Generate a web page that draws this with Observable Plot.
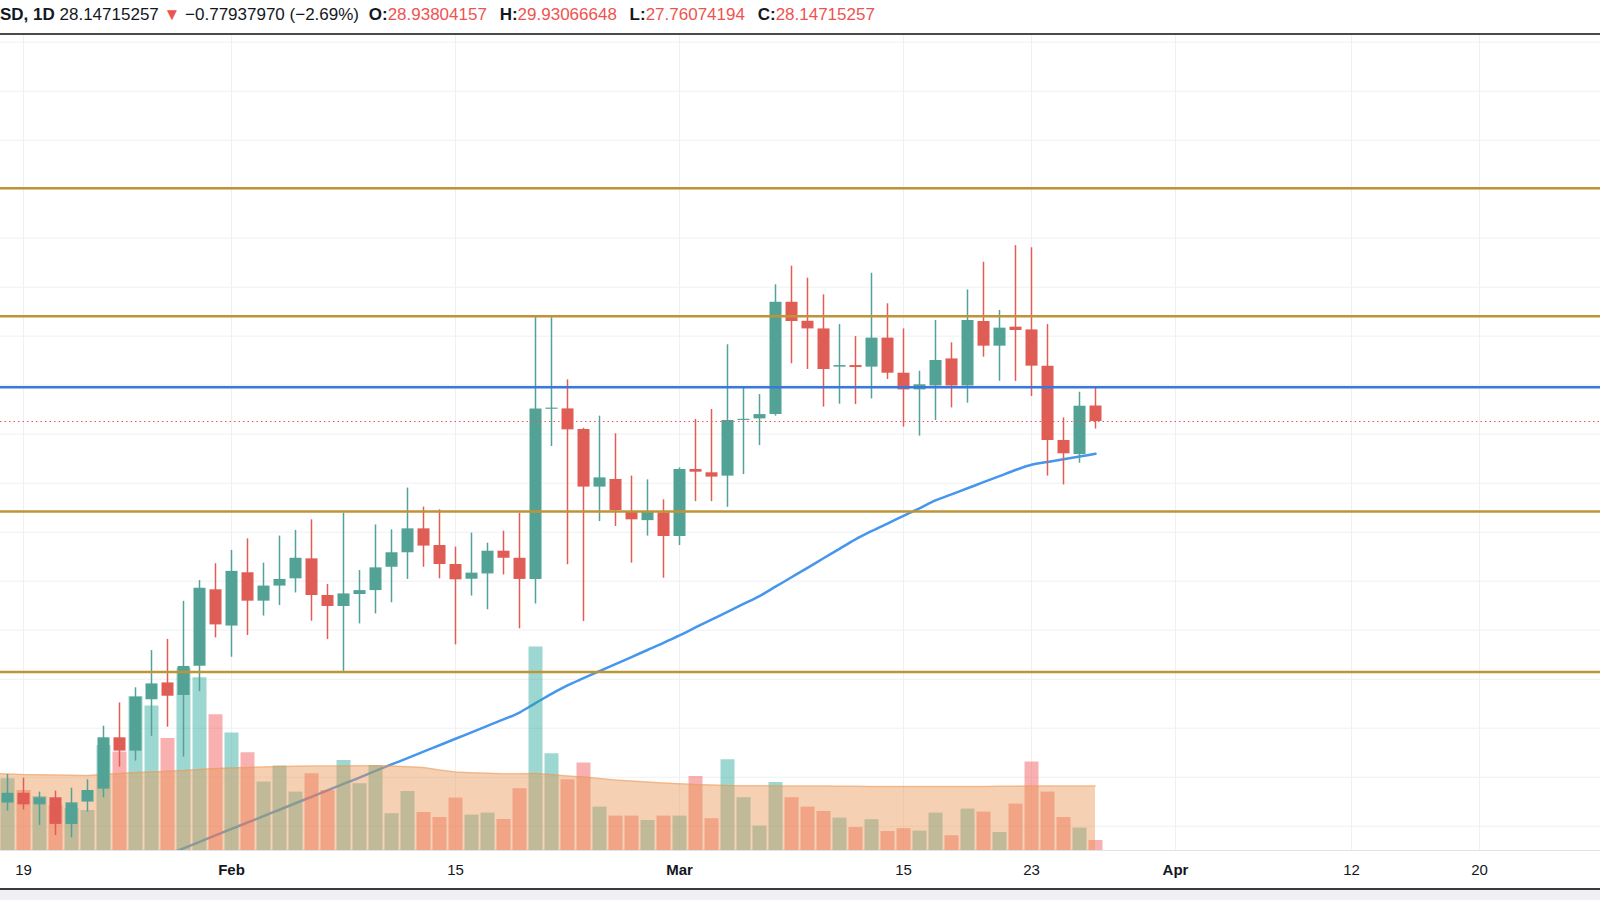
<!DOCTYPE html>
<html>
<head>
<meta charset="utf-8">
<script src="https://cdn.jsdelivr.net/npm/d3@7"></script>
<script src="https://cdn.jsdelivr.net/npm/@observablehq/plot@0.6"></script>
<style>
  html, body { margin: 0; padding: 0; background: #fff; }
  #wrap { position: relative; width: 1600px; height: 900px; overflow: hidden; font-family: "Liberation Sans", Arial, sans-serif; }
  #hdr { position: absolute; left: 0; top: 0; height: 33px; line-height: 29px; font-size: 17px; color: #131722; white-space: nowrap; }
  #hdr b { font-weight: 700; }
  #hdr .r { color: #ef5350; }
  #hdr .chg { margin-right: 5px; }
  #hdr .v { margin-right: 8px; }
  #topline { position: absolute; left: 0; top: 33px; width: 1600px; height: 2px; background: #4a4a4a; }
  .layer { position: absolute; left: 0; top: 35px; width: 1600px; height: 855px; }
  #botline { position: absolute; left: 0; top: 888px; width: 1600px; height: 2px; background: #3a3a3a; }
  #botfill { position: absolute; left: 0; top: 890px; width: 1600px; height: 10px; background: #eef0f3; }
</style>
</head>
<body>
<div id="wrap">
  <div id="hdr"></div>
  <div id="topline"></div>
  <div class="layer" id="l1"></div>
  <div class="layer" id="l2"></div>
  <div class="layer" id="l3"></div>
  <div id="botline"></div>
  <div id="botfill"></div>
</div>
<script>
// ---------- header text ----------
const symbolLabel = "SD, 1D";
const lastPrice = "28.14715257";
const changeText = "\u22120.77937970 (\u22122.69%)";
const ohlcLabels = ["O:", "H:", "L:", "C:"];
const ohlcValues = ["28.93804157", "29.93066648", "27.76074194", "28.14715257"];

// ---------- daily candles ----------
const days = [
  "2021-01-18","2021-01-19","2021-01-20","2021-01-21","2021-01-22","2021-01-23","2021-01-24","2021-01-25","2021-01-26","2021-01-27","2021-01-28","2021-01-29","2021-01-30","2021-01-31",
  "2021-02-01","2021-02-02","2021-02-03","2021-02-04","2021-02-05","2021-02-06","2021-02-07","2021-02-08","2021-02-09","2021-02-10","2021-02-11","2021-02-12","2021-02-13","2021-02-14",
  "2021-02-15","2021-02-16","2021-02-17","2021-02-18","2021-02-19","2021-02-20","2021-02-21","2021-02-22","2021-02-23","2021-02-24","2021-02-25","2021-02-26","2021-02-27","2021-02-28",
  "2021-03-01","2021-03-02","2021-03-03","2021-03-04","2021-03-05","2021-03-06","2021-03-07","2021-03-08","2021-03-09","2021-03-10","2021-03-11","2021-03-12","2021-03-13","2021-03-14",
  "2021-03-15","2021-03-16","2021-03-17","2021-03-18","2021-03-19","2021-03-20","2021-03-21","2021-03-22","2021-03-23","2021-03-24","2021-03-25","2021-03-26","2021-03-27"
];
const open = [
  8.68, 9.18, 8.59, 8.95, 7.59, 8.73, 9.39, 12.01, 11.33, 13.95, 14.81, 14.17, 15.66, 19.56,
  17.71, 20.43, 18.98, 19.75, 20.12, 21.14, 19.27, 18.71, 19.32, 19.52, 20.71, 21.45, 22.67, 21.82,
  20.85, 20.10, 20.37, 21.53, 21.17, 20.09, 28.77, 28.79, 27.74, 24.80, 25.19, 23.52, 23.09, 23.49,
  22.28, 25.70, 25.53, 25.36, 28.20, 28.28, 28.50, 34.23, 33.26, 32.87, 30.92, 31.00, 30.92, 32.40,
  30.61, 29.76, 29.96, 31.34, 29.96, 33.25, 31.99, 32.96, 32.82, 30.97, 27.18, 26.46, 28.938
];
const high = [
  10.14, 9.95, 9.24, 9.29, 9.44, 9.87, 12.60, 13.79, 14.56, 16.46, 17.03, 18.97, 20.03, 20.89,
  21.57, 22.16, 20.92, 22.30, 22.59, 23.13, 19.83, 23.47, 20.54, 22.87, 22.62, 24.75, 23.78, 23.64,
  21.74, 22.45, 21.94, 22.55, 23.47, 33.47, 33.44, 30.27, 27.80, 28.42, 27.52, 25.36, 25.17, 24.15,
  25.78, 28.25, 28.76, 32.06, 29.85, 29.52, 35.12, 36.07, 35.46, 34.61, 33.09, 32.48, 35.71, 34.15,
  32.87, 30.71, 33.30, 32.16, 34.86, 36.27, 33.81, 37.12, 37.01, 33.09, 28.33, 29.64, 29.931
];
const low = [
  8.27, 8.33, 7.54, 7.02, 6.91, 8.22, 8.95, 10.51, 10.82, 12.08, 12.55, 11.02, 14.37, 17.11,
  16.12, 17.23, 18.22, 18.76, 19.40, 17.96, 17.02, 15.40, 17.82, 18.33, 18.90, 20.09, 20.71, 20.12,
  16.75, 19.24, 18.54, 20.32, 17.57, 18.84, 26.87, 20.84, 17.94, 23.04, 22.79, 20.92, 22.30, 20.15,
  21.82, 24.06, 24.06, 23.77, 25.44, 26.92, 28.42, 31.09, 30.80, 28.88, 29.03, 29.01, 29.30, 30.29,
  27.86, 27.40, 28.20, 28.84, 29.08, 31.43, 30.20, 30.19, 29.42, 25.36, 24.91, 26.02, 27.761
];
const close = [
  9.18, 8.59, 8.95, 7.59, 8.69, 9.32, 12.01, 11.33, 14.08, 14.76, 14.13, 15.65, 19.64, 17.77,
  20.50, 18.98, 19.75, 20.09, 21.17, 19.27, 18.71, 19.35, 19.52, 20.68, 21.45, 22.67, 21.79, 20.85,
  20.07, 20.41, 21.53, 21.17, 20.09, 28.79, 28.83, 27.72, 24.80, 25.27, 23.60, 23.13, 23.52, 22.28,
  25.70, 25.56, 25.31, 28.20, 28.26, 28.50, 34.23, 33.25, 32.87, 30.80, 31.00, 30.90, 32.40, 30.61,
  29.76, 30.02, 31.26, 29.96, 33.30, 31.99, 32.91, 32.79, 30.97, 27.18, 26.50, 28.926, 28.147
];
// volume (millions)
const volume = [
  3.59, 3.0, 2.7, 2.25, 2.1, 2.0, 5.25, 4.92, 7.7, 7.22, 5.6, 9.1, 8.64, 6.79,
  5.87, 4.89, 3.42, 4.22, 2.92, 3.84, 3.0, 4.5, 3.34, 4.25, 1.84, 2.95, 1.9, 1.65,
  2.62, 1.77, 1.87, 1.55, 3.09, 10.17, 4.84, 3.54, 4.37, 2.17, 1.72, 1.72, 1.5, 1.72,
  1.72, 3.7, 1.59, 4.54, 2.64, 1.22, 3.4, 2.64, 2.17, 1.95, 1.62, 1.15, 1.54, 0.95,
  1.09, 0.97, 1.87, 0.74, 2.07, 1.92, 0.9, 2.32, 4.42, 2.92, 1.65, 1.12, 0.5
];
// volume moving average (orange area)
const volumeMA = [
  3.83, 3.8, 3.79, 3.78, 3.76, 3.75, 3.8, 3.85, 3.9, 3.93, 3.96, 4.0, 4.05, 4.1,
  4.13, 4.15, 4.18, 4.2, 4.21, 4.22, 4.23, 4.23, 4.24, 4.24, 4.23, 4.19, 4.15, 4.03,
  3.92, 3.89, 3.86, 3.84, 3.84, 3.85, 3.8, 3.73, 3.67, 3.6, 3.53, 3.48, 3.43, 3.38,
  3.34, 3.3, 3.28, 3.25, 3.24, 3.24, 3.23, 3.23, 3.22, 3.22, 3.21, 3.21, 3.2, 3.2,
  3.2, 3.2, 3.2, 3.2, 3.2, 3.2, 3.21, 3.21, 3.22, 3.22, 3.22, 3.22, 3.22
];
// previous day (off the left edge) so the volume average reaches the chart border
const volumeMAPrevDay = {date: "2021-01-17", value: 3.84};
// 50-day price moving average (blue curve)
const ma50 = [
  null, null, null, null, null, null, null, null, null, null, 6.05, 6.37, 6.70, 7.03,
  7.36, 7.69, 8.01, 8.34, 8.67, 9.00, 9.33, 9.66, 9.98, 10.32, 10.65, 10.97, 11.30, 11.63,
  11.96, 12.29, 12.62, 12.95, 13.30, 13.78, 14.25, 14.68, 15.05, 15.41, 15.77, 16.13, 16.49, 16.85,
  17.23, 17.64, 18.04, 18.44, 18.84, 19.24, 19.72, 20.20, 20.68, 21.17, 21.65, 22.13, 22.55, 22.94,
  23.33, 23.72, 24.12, 24.43, 24.74, 25.05, 25.36, 25.67, 25.94, 26.08, 26.22, 26.36, 26.50
];

// horizontal levels
const goldLevels = [40.05, 33.52, 23.55, 15.37];
const blueLevel = [29.9];
const lastClose = [28.147];

// axes
const gridPrices = [7.5, 10, 12.5, 15, 17.5, 20, 22.5, 25, 27.5, 30, 32.5, 35, 37.5, 40, 42.5, 45, 47.5];
const tickDates = ["2021-01-19","2021-02-01","2021-02-15","2021-03-01","2021-03-15","2021-03-23","2021-04-01","2021-04-12","2021-04-20"];
const tickLabels = ["19","Feb","15","Mar","15","23","Apr","12","20"];

// visible ranges
const xStart = "2021-01-17T13:30:00Z";
const xEnd = "2021-04-27T13:30:00Z";
const priceDomain = [6.26, 47.84];
const volumeDomain = [0, 40.75];

// ---------- build tables ----------
const parse = s => new Date(s + "T00:00:00Z");
const candles = days.map((d, i) => ({
  date: parse(d), open: open[i], high: high[i], low: low[i], close: close[i],
  volume: volume[i], volMA: volumeMA[i], ma: ma50[i]
}));
const up = candles.filter(d => d.close >= d.open);
const down = candles.filter(d => d.close < d.open);
const maRows = candles.filter(d => d.ma != null);
const volMARows = [{date: parse(volumeMAPrevDay.date), volMA: volumeMAPrevDay.value}, ...candles];
const ticks = tickDates.map((d, i) => ({date: parse(d), label: tickLabels[i], month: isNaN(+tickLabels[i])}));

const UP = "#52a396", DOWN = "#e05d56";
const UPV = "rgb(38,166,154)", DOWNV = "rgb(239,83,80)";

const common = {
  width: 1600, height: 855,
  marginTop: 0, marginLeft: 0, marginRight: 0, marginBottom: 40,
  style: {background: "transparent", overflow: "visible"},
  x: {type: "utc", domain: [new Date(xStart), new Date(xEnd)], axis: null}
};

// layer 1: grid + 50-day MA (under the volume)
const p1 = Plot.plot({
  ...common,
  y: {domain: priceDomain, axis: null},
  marks: [
    Plot.ruleY(gridPrices, {stroke: "#eef0f4", strokeWidth: 1}),
    Plot.ruleX(ticks, {x: "date", stroke: "#eef0f4", strokeWidth: 1}),
    Plot.lineY(maRows, {x: "date", y: "ma", stroke: "#4596ec", strokeWidth: 2.5, curve: "monotone-x", clip: true})
  ]
});
document.getElementById("l1").append(p1);

// layer 2: volume bars + volume MA area
const p2 = Plot.plot({
  ...common,
  y: {domain: volumeDomain, axis: null},
  marks: [
    Plot.ruleX(up, {x: "date", y1: 0, y2: "volume", stroke: UPV, strokeOpacity: 0.45, strokeWidth: 14}),
    Plot.ruleX(down, {x: "date", y1: 0, y2: "volume", stroke: DOWNV, strokeOpacity: 0.45, strokeWidth: 14}),
    Plot.areaY(volMARows, {x: "date", y: "volMA", fill: "rgb(235,151,85)", fillOpacity: 0.45, clip: true}),
    Plot.lineY(volMARows, {x: "date", y: "volMA", stroke: "rgb(235,151,85)", strokeOpacity: 0.45, strokeWidth: 1.5, clip: true})
  ]
});
document.getElementById("l2").append(p2);

// layer 3: candles, levels, x axis
const p3 = Plot.plot({
  ...common,
  y: {domain: priceDomain, axis: null},
  marks: [
    Plot.frame({anchor: "bottom", stroke: "#e0e3eb"}),
    Plot.ruleX(up, {x: "date", y1: "low", y2: "high", stroke: UP, strokeWidth: 1.5}),
    Plot.ruleX(down, {x: "date", y1: "low", y2: "high", stroke: DOWN, strokeWidth: 1.5}),
    Plot.ruleX(up, {x: "date", y1: "open", y2: "close", stroke: UP, strokeWidth: 12}),
    Plot.ruleX(down, {x: "date", y1: "open", y2: "close", stroke: DOWN, strokeWidth: 12}),
    Plot.ruleY(goldLevels, {stroke: "#bf9437", strokeWidth: 2.5}),
    Plot.ruleY(blueLevel, {stroke: "#3b78dc", strokeWidth: 2.5}),
    Plot.ruleY(lastClose, {stroke: "#ef5350", strokeWidth: 1, strokeDasharray: "1.5,3"}),
    Plot.text(ticks.filter(t => !t.month), {x: "date", text: "label", frameAnchor: "bottom", dy: 20, lineAnchor: "middle",
      fontSize: 15, fill: "#131722", fontFamily: "Liberation Sans, Arial, sans-serif"}),
    Plot.text(ticks.filter(t => t.month), {x: "date", text: "label", frameAnchor: "bottom", dy: 20, lineAnchor: "middle",
      fontSize: 15, fontWeight: 700, fill: "#131722", fontFamily: "Liberation Sans, Arial, sans-serif"})
  ]
});
document.getElementById("l3").append(p3);

// header
const hdr = document.getElementById("hdr");
let html = `<b>${symbolLabel}</b> ${lastPrice} <span class="r">\u25BC</span> <span class="chg">${changeText}</span> `;
ohlcLabels.forEach((l, i) => { html += `<b>${l}</b><span class="r v">${ohlcValues[i]}</span> `; });
hdr.innerHTML = html;
</script>
</body>
</html>
